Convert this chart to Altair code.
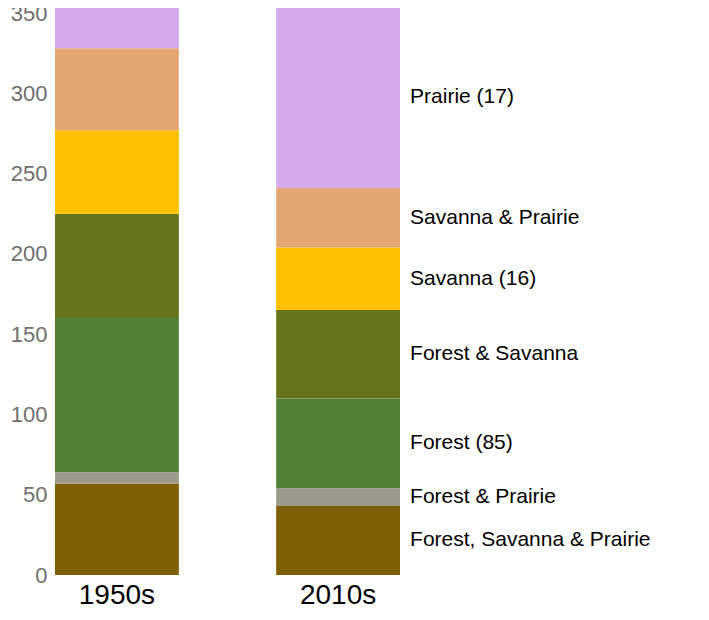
import altair as alt
import pandas as pd

decades = ["1950s", "2010s"]
categories = ["Forest, Savanna & Prairie", "Forest & Prairie", "Forest (85)",
              "Forest & Savanna", "Savanna (16)", "Savanna & Prairie", "Prairie (17)"]
colors = ["#7f6000", "#9b9a8c", "#538135", "#66751c", "#ffc000", "#e3a872", "#d5aaea"]
counts_1950 = [57, 7, 96, 65, 52, 51, 27]
counts_2010 = [43, 11, 56, 55, 39, 37, 114]

rows = []
for dec, vals in zip(decades, [counts_1950, counts_2010]):
    base = 0
    for i, (c, v) in enumerate(zip(categories, vals)):
        rows.append({"decade": dec, "cat": c, "order": i, "y0": base, "y1": base + v,
                     "mid": base + v / 2})
        base += v
df = pd.DataFrame(rows)

x = alt.X("decade:N", title=None, sort=decades,
          scale=alt.Scale(paddingInner=0.44, paddingOuter=0),
          axis=alt.Axis(labelAngle=0, labelFontSize=28, labelColor="black", ticks=False,
                        domain=False, labelPadding=6, labelFont="Liberation Sans"))
y = alt.Y("y0:Q", title="Species count", scale=alt.Scale(domain=[0, 355], nice=False),
          axis=alt.Axis(values=[0, 50, 100, 150, 200, 250, 300, 350], grid=False, domain=False,
                        ticks=False, labelFontSize=22, labelColor="#6e6e6e", titleFontSize=26,
                        titleFontWeight="normal", titleColor="black", labelPadding=8,
                        titlePadding=6,
                        labelFont="Liberation Sans", titleFont="Liberation Sans"))

bars = alt.Chart(df).mark_bar().encode(
    x=x, y=y, y2="y1:Q",
    color=alt.Color("cat:N", scale=alt.Scale(domain=categories, range=colors), legend=None),
)

labels = alt.Chart(df[df.decade == "2010s"]).mark_text(
    align="left", baseline="middle", dx=72, fontSize=21, font="Liberation Sans", color="black"
).encode(x=alt.X("decade:N", sort=decades), y="mid:Q", text="cat:N")

chart = (bars + labels).properties(width=345, height=570, padding={"left": -30, "top": -6, "right": 5, "bottom": 5}).configure_view(stroke=None)
chart.save("out.html", embed_options={"renderer": "svg", "actions": False})
